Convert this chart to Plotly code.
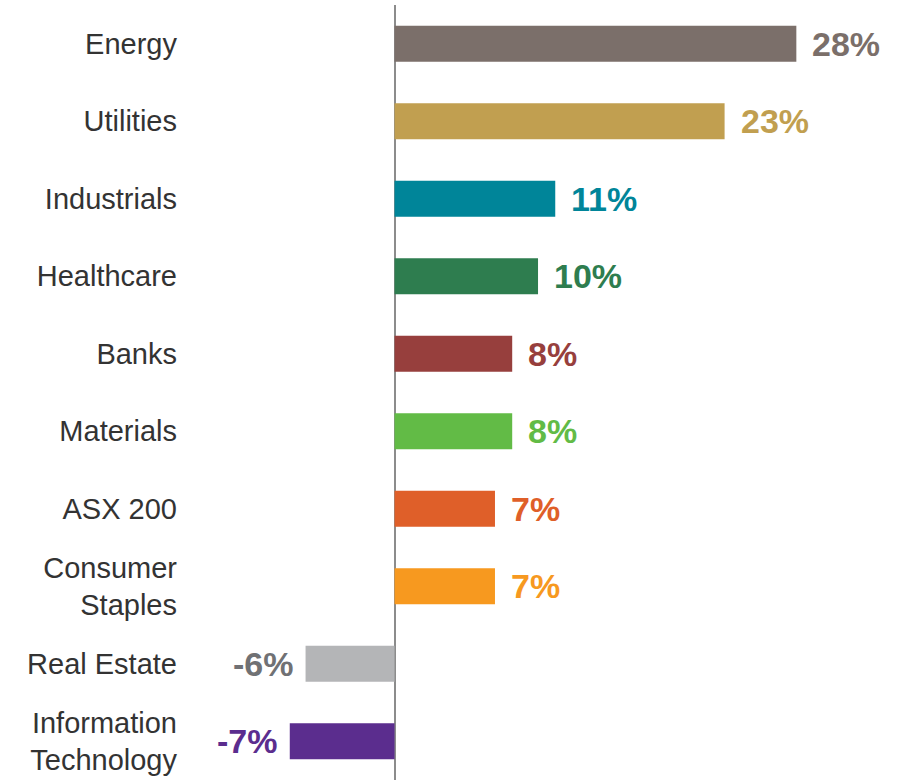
import plotly.graph_objects as go

sectors = ["Energy", "Utilities", "Industrials", "Healthcare", "Banks", "Materials",
           "ASX 200", "Consumer<br>Staples", "Real Estate", "Information<br>Technology"]
returns = [28.0, 23.0, 11.2, 10.0, 8.2, 8.2, 7.0, 7.0, -6.2, -7.3]
labels = ["28%", "23%", "11%", "10%", "8%", "8%", "7%", "7%", "-6%", "-7%"]

BAR_COLORS = ["#7b6f6a", "#c19f50", "#008599", "#2e7d4f", "#973f3d", "#62bb46",
              "#df5f29", "#f7991f", "#b4b5b7", "#5b2d8e"]
LABEL_COLORS = BAR_COLORS[:8] + ["#707174", "#5b2d8e"]

fig = go.Figure(
    go.Bar(
        x=returns,
        y=sectors,
        orientation="h",
        marker=dict(color=BAR_COLORS, line=dict(width=0)),
        hoverinfo="skip",
    )
)

for sector, value, text, color in zip(sectors, returns, labels, LABEL_COLORS):
    fig.add_annotation(
        x=value, y=sector, text=f"<b>{text}</b>", showarrow=False,
        xanchor="left" if value >= 0 else "right",
        xshift=14 if value >= 0 else -11,
        font=dict(family="Liberation Sans, Arial, sans-serif", size=34, color=color),
    )

fig.update_layout(
    width=912,
    height=780,
    margin=dict(l=182, r=0, t=5, b=0),
    paper_bgcolor="white",
    plot_bgcolor="white",
    bargap=0.535,
    showlegend=False,
    font=dict(family="Liberation Sans, Arial, sans-serif", size=29, color="#333333"),
    xaxis=dict(
        range=[-14.81, 36.06],
        showgrid=False,
        showticklabels=False,
        zeroline=True,
        zerolinecolor="#8c8c8c",
        zerolinewidth=2,
    ),
    yaxis=dict(
        autorange="reversed",
        showgrid=False,
        ticks="",
        automargin=False,
        ticklabelstandoff=4,
        tickfont=dict(size=29, color="#333333"),
    ),
)

# page has a default 8px body margin; drop it so the figure sits at the corner
fig.write_html(
    "out.html",
    config={"displayModeBar": False},
    post_script="document.body.style.margin='0';",
)
